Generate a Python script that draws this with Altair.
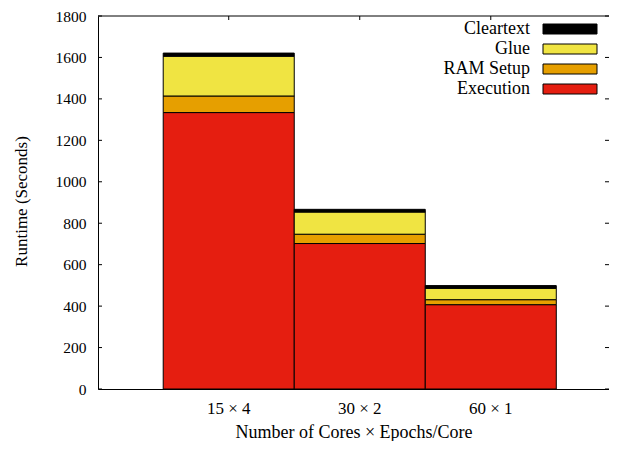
import altair as alt
import pandas as pd

configs = ["15 × 4", "30 × 2", "60 × 1"]
series = ["Execution", "RAM Setup", "Glue", "Cleartext"]
execution = [1334, 702, 407]
ram_setup = [80, 45, 24]
glue = [192, 107, 55]
cleartext = [15, 13, 13]
colors = ["#E51E10", "#E69F00", "#F0E442", "#000000"]
y_ticks = [0, 200, 400, 600, 800, 1000, 1200, 1400, 1600, 1800]
legend_order = ["Cleartext", "Glue", "RAM Setup", "Execution"]

rows = []
for i, c in enumerate(configs):
    for k, (s, vals) in enumerate(zip(series, [execution, ram_setup, glue, cleartext])):
        rows.append({"config": c, "series": s, "value": vals[i], "order": k})
df = pd.DataFrame(rows)

W, H = 511, 373
FONT = "Liberation Serif"

xscale = alt.Scale(domain=configs, paddingInner=0, paddingOuter=0.450, align=0.553)
yscale = alt.Scale(domain=[0, 1800], nice=False, zero=True)
cscale = alt.Scale(domain=series, range=colors)

bars = alt.Chart(df).mark_bar(stroke="black", strokeWidth=1).encode(
    x=alt.X("config:N", sort=configs, scale=xscale,
            axis=alt.Axis(title="Number of Cores × Epochs/Core", labelAngle=0, ticks=False,
                          labelFontSize=17, titleFontSize=18,
                          labelPadding=11, titleY=43, titleBaseline="middle")),
    y=alt.Y("value:Q", stack="zero", scale=yscale,
            axis=alt.Axis(values=y_ticks, format="d", title="Runtime (Seconds)", ticks=False, grid=False,
                          labelFontSize=15.5, titleFontSize=17,
                          labelPadding=12, labelBaseline="middle",
                          titleX=-77, titleY=185, titleBaseline="middle", titleAlign="center")),
    color=alt.Color("series:N", scale=cscale, legend=None),
    order=alt.Order("order:Q"),
)

ticks_df = pd.DataFrame({"v": y_ticks})
left_ticks = alt.Chart(ticks_df).mark_rule(color="black", strokeWidth=1).encode(
    y=alt.Y("v:Q", scale=yscale, axis=None), x=alt.value(0), x2=alt.value(4))
right_ticks = alt.Chart(ticks_df).mark_rule(color="black", strokeWidth=1).encode(
    y=alt.Y("v:Q", scale=yscale, axis=None), x=alt.value(W - 4), x2=alt.value(W))

top_ticks = alt.Chart(pd.DataFrame({"config": configs})).mark_rule(color="black", strokeWidth=1).encode(
    x=alt.X("config:N", sort=configs, scale=xscale, axis=None), y=alt.value(0), y2=alt.value(4))

frame_top = alt.Chart(pd.DataFrame({"a": [0]})).mark_rule(color="black", strokeWidth=1).encode(
    x=alt.value(0), x2=alt.value(W), y=alt.value(0))

leg_df = pd.DataFrame({"series": legend_order})
ly = alt.Scale(type="band", domain=legend_order, range=[3, 83], paddingInner=0.5, paddingOuter=0.25)
leg_rect = alt.Chart(leg_df).mark_rect(stroke="black", strokeWidth=1).encode(
    y=alt.Y("series:N", scale=ly, axis=None, sort=legend_order),
    x=alt.value(445), x2=alt.value(499),
    color=alt.Color("series:N", scale=cscale, legend=None))
leg_text = alt.Chart(leg_df).mark_text(align="right", baseline="middle", font=FONT, fontSize=18,
                                       color="black").encode(
    y=alt.Y("series:N", scale=ly, axis=None, sort=legend_order),
    x=alt.value(432), text="series:N")

chart = alt.layer(bars, left_ticks, right_ticks, top_ticks, frame_top, leg_rect, leg_text).resolve_scale(
    y="independent"
).resolve_axis(x="independent").properties(
    width=W, height=H,
    autosize=alt.AutoSizeParams(type="none"),
    padding={"left": 90, "top": 8, "right": 0, "bottom": 52},
).configure_view(stroke=None).configure_axis(
    labelFont=FONT, titleFont=FONT,
    labelColor="black", titleColor="black", titleFontWeight="normal",
    domainColor="black", domainWidth=1,
)

chart.save("out.html", embed_options={"renderer": "svg", "actions": False})
